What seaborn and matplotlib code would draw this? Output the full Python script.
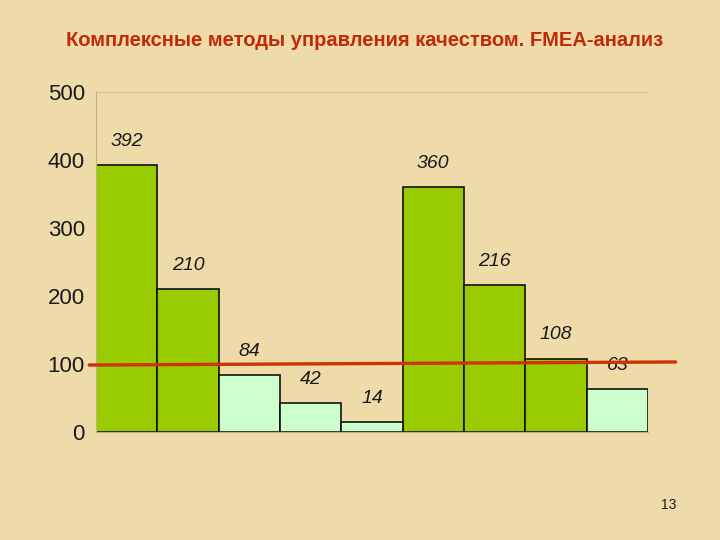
import matplotlib
matplotlib.use("Agg")
import matplotlib.pyplot as plt
import seaborn as sns
import pandas as pd

# ---- data ----
categories = ["1", "2", "3", "4", "5", "6", "7", "8", "9"]
values = [392, 210, 84, 42, 14, 360, 216, 108, 63]
groups = ["high", "high", "low", "low", "low", "high", "high", "high", "low"]
threshold_x = [-0.61, 8.95]
threshold_y = [98.5, 103]
y_ticks = [0, 100, 200, 300, 400, 500]
title = "Комплексные методы управления качеством. FMEA-анализ"
page_no = "13"

sns.set_theme(style="white")
plt.rcParams['font.family'] = ['Liberation Sans', 'DejaVu Sans']

BG = "#EFDAA9"
fig = plt.figure(figsize=(7.2, 5.4), dpi=100, facecolor=BG)
ax = fig.add_axes([96/720, 1-432/540, (648-96)/720, (432-92)/540])
ax.set_facecolor(BG)

df = pd.DataFrame({"cat": categories, "val": values, "grp": groups})
palette = {"high": "#99CC00", "low": "#CCFFCC"}
sns.barplot(data=df, x="cat", y="val", hue="grp", palette=palette,
            dodge=False, width=1.0, edgecolor="#111111", linewidth=1.2,
            legend=False, ax=ax, saturation=1)

for i, v in enumerate(values):
    ax.annotate(str(v), (i, v), xytext=(0, 11), textcoords="offset points",
                ha="center", va="bottom", fontsize=14, fontstyle="italic",
                color="#1a1a1a")

ax.plot(threshold_x, threshold_y, color="#CC3300", linewidth=2.4,
        clip_on=False, zorder=5)

ax.set_xlim(-0.5, len(values) - 0.5)
ax.set_ylim(0, 500)
ax.set_yticks(y_ticks)
ax.set_yticklabels([str(t) for t in y_ticks], fontsize=16, color="#1a1a1a")
ax.set_xticks([i - 0.5 for i in range(len(values) + 1)])
ax.set_xticklabels([])
ax.tick_params(axis="both", length=5, color="#B8A67A", width=0.8)
ax.tick_params(axis="y", pad=3)
ax.set_xlabel("")
ax.set_ylabel("")
for s in ["top", "right"]:
    ax.spines[s].set_visible(False)
for s in ["left", "bottom"]:
    ax.spines[s].set_color("#C2B07F")
    ax.spines[s].set_linewidth(0.8)
ax.axhline(500, color="#D9C694", linewidth=0.8, zorder=0)

fig.text(365/720, 1-40/540, title, ha="center", va="center",
         fontsize=14.5, color="#C02A0A", fontweight="bold")
fig.text(669/720, 1-505/540, page_no, ha="center", va="center",
         fontsize=10, color="#1a1a1a")

fig.savefig("out.png", dpi=100, facecolor=BG)
